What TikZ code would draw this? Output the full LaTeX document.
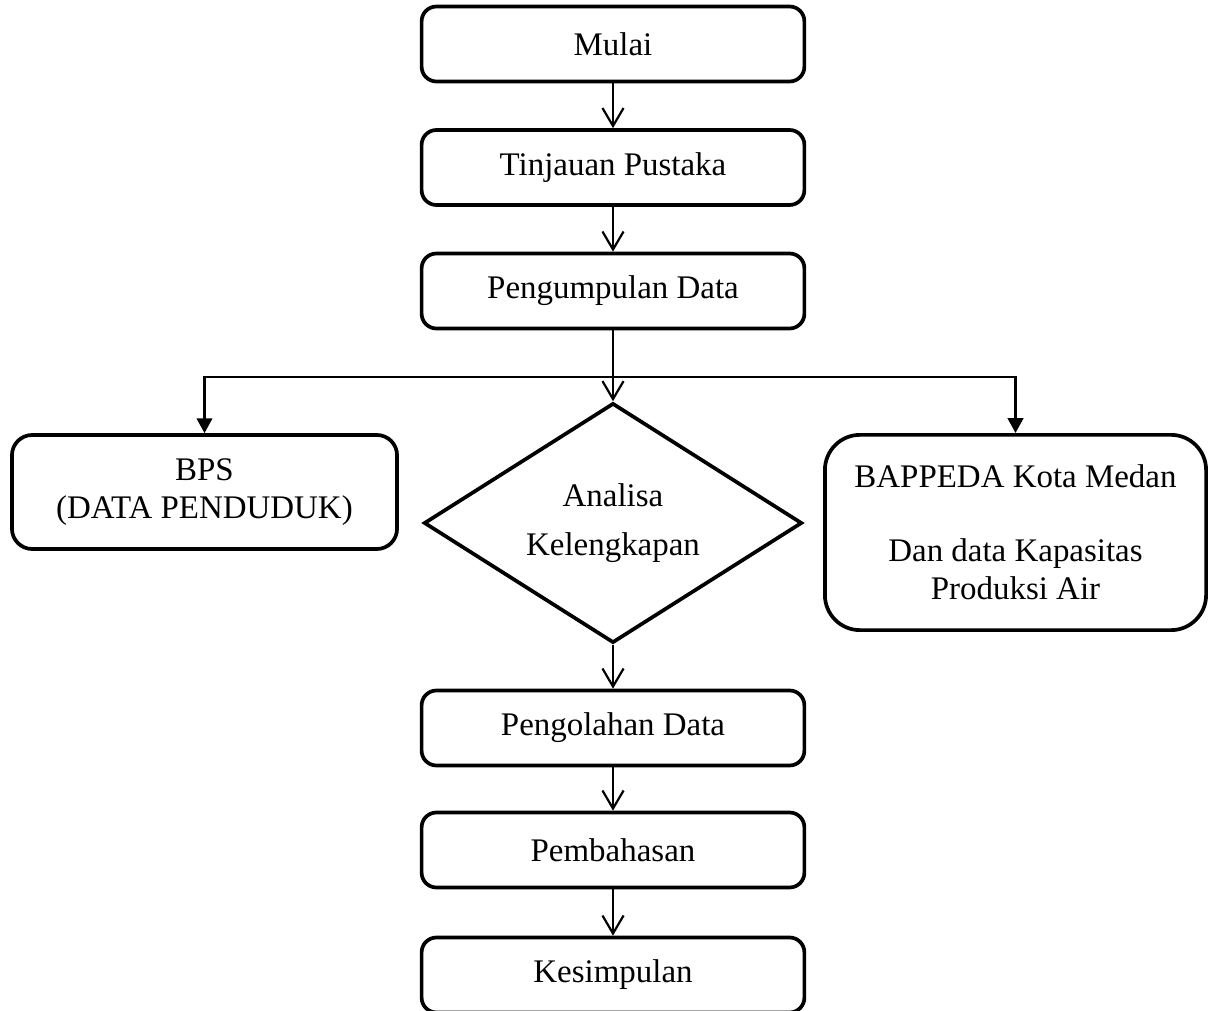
\documentclass[tikz,border=0pt]{standalone}
\usepackage{fontspec}
\setmainfont{Liberation Serif}
\usetikzlibrary{positioning,arrows.meta,shapes.geometric}

\begin{document}
\begin{tikzpicture}[
    x=0.0128cm, y=-0.0128cm,
    every node/.style={font=\fontsize{12}{14}\selectfont, align=center},
    procbox/.style={draw, line width=1.35pt, rounded corners=0.19cm,
      minimum width=4.9cm, minimum height=0.96cm},
    sumberbox/.style={draw, line width=1.35pt, inner sep=0pt},
    cekbox/.style={draw, diamond, line width=1.35pt, inner sep=0pt, aspect=1.575,
      minimum width=4.84cm, minimum height=3.07cm},
    alur/.style={draw, line width=0.8pt, -{Straight Barb[length=0.23cm, width=0.27cm, line width=0.8pt]}},
    cabang/.style={draw, line width=0.8pt, -{Triangle[length=0.19cm, width=0.2cm]}}]
  \useasboundingbox (0,0) rectangle (1208,1011);
  % alur utama
  \node[procbox] (mulai) at (613,44) {Mulai};
  \node[procbox] (tinjau) at (613,167.5) {Tinjauan Pustaka};
  \node[procbox] (kumpul) at (613,291) {Pengumpulan Data};
  \node[cekbox] (analisa) at (613,523) {Analisa\\[4pt] Kelengkapan};
  \node[procbox] (olah) at (613,728) {Pengolahan Data};
  \node[procbox] (bahas) at (613,850) {Pembahasan};
  \node[procbox] (simpul) at (613,975) {Kesimpulan};
  % sumber data
  \node[sumberbox, rounded corners=0.26cm, minimum width=4.93cm, minimum height=1.46cm]
    (bps) at (204.5,492) {BPS\\(DATA PENDUDUK)};
  \node[sumberbox, rounded corners=0.45cm, minimum width=4.88cm, minimum height=2.5cm]
    (bappeda) at (1015.5,532.5) {BAPPEDA Kota Medan\\[0.45cm] Dan data Kapasitas\\Produksi Air};
  \coordinate (pisah) at (613,377);
  \draw[alur] (mulai) -- (tinjau);
  \draw[alur] (tinjau) -- (kumpul);
  \draw[alur] (kumpul) -- (analisa.north);
  \draw[cabang] (pisah) -| (bps);
  \draw[cabang] (pisah) -| (bappeda);
  \draw[alur] (analisa.south) -- (olah);
  \draw[alur] (olah) -- (bahas);
  \draw[alur] (bahas) -- (simpul);
\end{tikzpicture}
\end{document}
